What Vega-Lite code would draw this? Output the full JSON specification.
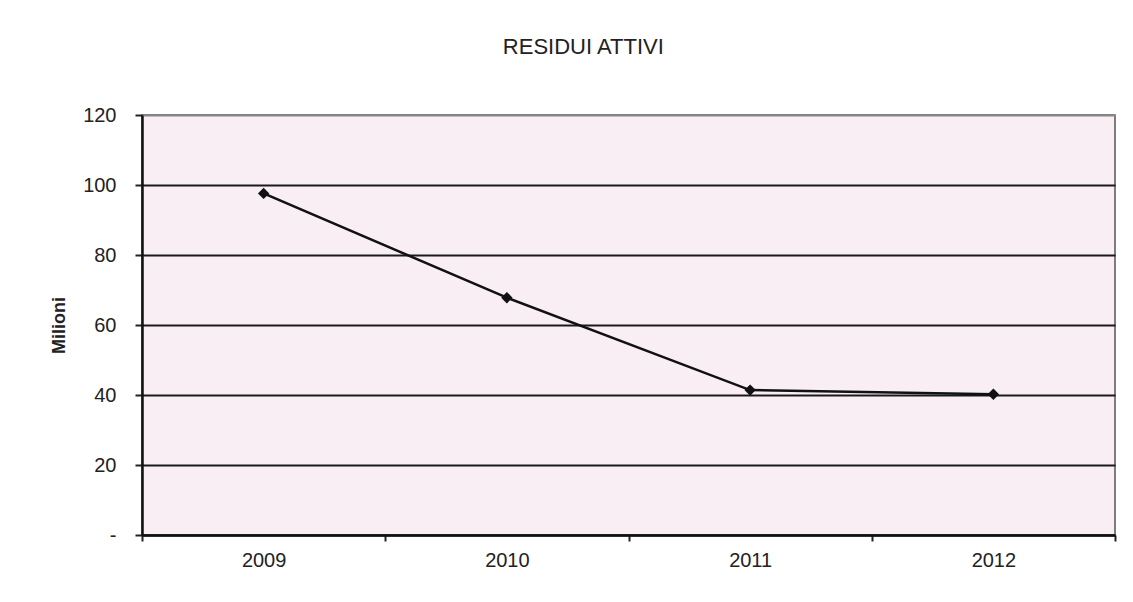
{
  "$schema": "https://vega.github.io/schema/vega-lite/v6.json",
  "autosize": {"type": "none"},
  "padding": {"left": 142, "top": 115, "right": 18, "bottom": 67},
  "width": 973,
  "height": 420,
  "background": "white",
  "title": {
    "text": "RESIDUI ATTIVI",
    "font": "Liberation Sans",
    "fontSize": 22,
    "fontWeight": "normal",
    "color": "#222",
    "anchor": "middle",
    "frame": "bounds",
    "offset": 46
  },
  "config": {
    "view": {"fill": "#f8eef3", "stroke": "#555", "strokeWidth": 1.5},
    "font": "Liberation Sans"
  },
  "data": {
    "values": [
      {"anno": "2009", "valore": 97.6},
      {"anno": "2010", "valore": 67.8},
      {"anno": "2011", "valore": 41.4},
      {"anno": "2012", "valore": 40.2}
    ]
  },
  "encoding": {
    "x": {
      "field": "anno",
      "type": "ordinal",
      "scale": {"paddingInner": 0, "paddingOuter": 0},
      "axis": {
        "title": null,
        "labelAngle": 0,
        "labelFontSize": 20,
        "labelColor": "#222",
        "labelPadding": 9,
        "tickBand": "extent",
        "tickSize": 6,
        "tickColor": "#222",
        "tickWidth": 2,
        "domainColor": "#111",
        "domainWidth": 2.5,
        "grid": false
      }
    },
    "y": {
      "field": "valore",
      "type": "quantitative",
      "scale": {"domain": [0, 120]},
      "axis": {
        "title": "Milioni",
        "titleFontSize": 18,
        "titleFontWeight": "bold",
        "titleColor": "#222",
        "titlePadding": 14,
        "values": [0, 20, 40, 60, 80, 100, 120],
        "labelExpr": "datum.value === 0 ? '-' : datum.label",
        "labelFontSize": 20,
        "labelColor": "#222",
        "labelPadding": 19,
        "tickSize": 7,
        "tickColor": "#222",
        "tickWidth": 2,
        "domainColor": "#111",
        "domainWidth": 2.5,
        "grid": true,
        "gridColor": {"condition": {"test": "datum.value === 120", "value": "#888"}, "value": "#1a1a1a"},
        "gridWidth": 2
      }
    }
  },
  "layer": [
    {"mark": {"type": "line", "color": "#111", "strokeWidth": 2.5}},
    {"mark": {"type": "point", "shape": "diamond", "filled": true, "color": "#111", "size": 130, "opacity": 1}}
  ]
}
